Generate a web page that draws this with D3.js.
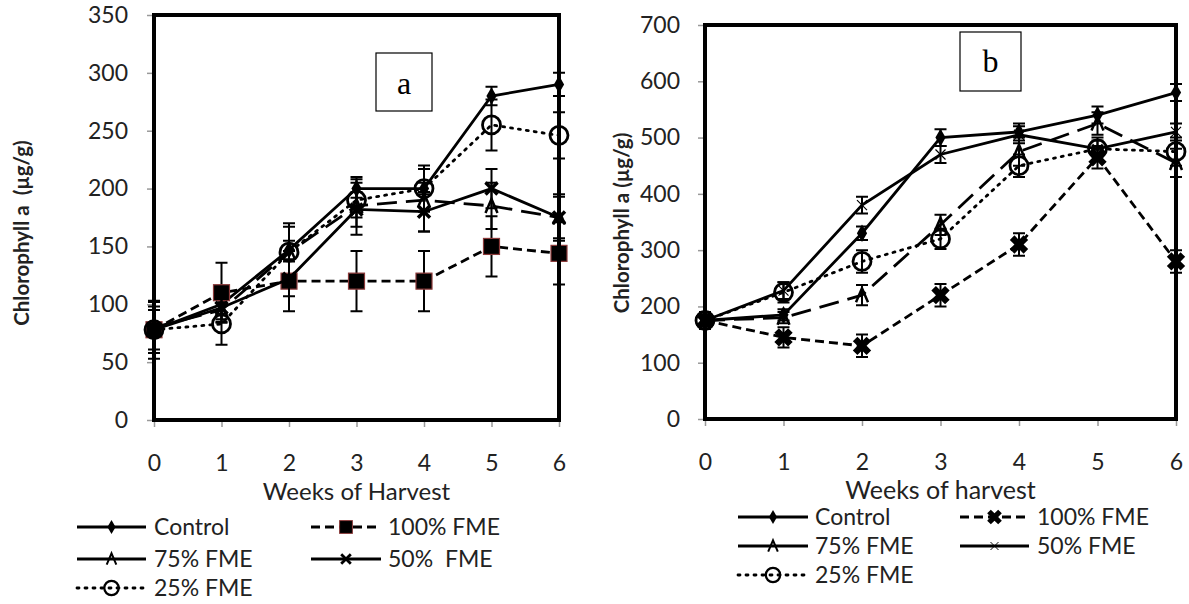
<!DOCTYPE html>
<html>
  <head>
    <meta charset="utf-8">
    <style>
      body { margin: 0; background: #fff; }
      text { font-family: Lato, "Open Sans", sans-serif; fill: #222; }
      .tick line { stroke: #999; stroke-width: 1.5; }
      .tick text { font-size: 23px; }
      .legend text { font-size: 23px; white-space: pre; }
      .ytitle { font-size: 20.5px; font-weight: bold; white-space: pre; }
      .panel-label { font-family: "Liberation Serif", "DejaVu Serif", serif; fill: #000; }
    </style>
    <script src="https://cdnjs.cloudflare.com/ajax/libs/d3/7.8.5/d3.min.js"></script>
  </head>
  <body>
    <svg width="1189" height="604" id="SVG"></svg>
    <script>
      var weeks = [0, 1, 2, 3, 4, 5, 6];
      var seriesNames = ["Control", "100% FME", "75% FME", "50% FME", "25% FME"];

      // panel a values (µg/g) and error bars
      var aControl = [78, 100, 147, 200, 200, 280, 290];
      var a100 = [78, 110, 120, 120, 120, 150, 144];
      var a75 = [80, 95, 145, 185, 190, 185, 175];
      var a50 = [78, 97, 122, 182, 180, 200, 175];
      var a25 = [78, 83, 145, 190, 200, 255, 246];
      var aControlErr = [5, 8, 8, 8, 5, 8, 10];
      var a100Err = [25, 26, 26, 26, 26, 26, 27];
      var a75Err = [22, 10, 25, 25, 27, 20, 18];
      var a50Err = [20, 10, 15, 15, 17, 17, 20];
      var a25Err = [17, 18, 22, 15, 20, 22, 20];
      var aTicks = [0, 50, 100, 150, 200, 250, 300, 350];

      // panel b values (µg/g) and error bars
      var bControl = [175, 185, 330, 500, 510, 540, 580];
      var b100 = [175, 145, 130, 220, 310, 465, 280];
      var b75 = [175, 180, 220, 345, 475, 525, 455];
      var b50 = [175, 228, 380, 470, 505, 480, 510];
      var b25 = [175, 225, 280, 320, 450, 480, 475];
      var bControlErr = [10, 10, 12, 15, 15, 15, 15];
      var b100Err = [10, 18, 20, 20, 20, 20, 20];
      var b75Err = [10, 10, 18, 18, 25, 20, 25];
      var b50Err = [10, 15, 15, 15, 15, 15, 15];
      var b25Err = [15, 18, 20, 18, 20, 20, 25];
      var bTicks = [0, 100, 200, 300, 400, 500, 600, 700];

      var svg = d3.select("#SVG");

      var dashes = { solid: null, dash: "9,5", longdash: "20,9", dot: "2,6" };

      // k scales the marker (legend markers are a bit smaller)
      function drawMarker(g, kind, x, y, k) {
        var t = "translate(" + x + "," + y + ") scale(" + k + ")";
        if (kind == "diamond") {
          g.append("path").attr("d", d3.symbol().type(d3.symbolDiamond).size(90)())
           .attr("transform", t).attr("fill", "#000");
        } else if (kind == "square") {
          g.append("rect").attr("x", -8).attr("y", -8).attr("width", 16).attr("height", 16)
           .attr("transform", t).attr("fill", "#000").attr("stroke", "#8b3a3a").attr("stroke-width", 1.2);
        } else if (kind == "caret") {
          g.append("path").attr("d", "M-6,7L0,-7L6,7").attr("transform", t)
           .attr("fill", "none").attr("stroke", "#000").attr("stroke-width", 2.5);
        } else if (kind == "x") {
          g.append("path").attr("d", "M-6,-6L6,6M-6,6L6,-6").attr("transform", t)
           .attr("stroke", "#000").attr("stroke-width", 3.5);
        } else if (kind == "thinx") {
          g.append("path").attr("d", "M-5,-5L5,5M-5,5L5,-5").attr("transform", t)
           .attr("stroke", "#000").attr("stroke-width", 1.2);
        } else if (kind == "star") {
          g.append("path").attr("d", d3.symbol().type(d3.symbolCross).size(210)())
           .attr("transform", t + " rotate(45)").attr("fill", "#000");
          g.append("path").attr("d", d3.symbol().type(d3.symbolSquare).size(60)())
           .attr("transform", t).attr("fill", "#000");
        } else if (kind == "circle") {
          g.append("circle").attr("r", 9).attr("transform", t)
           .attr("fill", "none").attr("stroke", "#000").attr("stroke-width", 2.8);
        }
      }

      function drawPanel(p) {
        var x = d3.scaleLinear().domain([0, 6]).range([p.left, p.right]);
        var y = d3.scaleLinear().domain([0, p.ymax]).range([p.bottom, p.top]);
        var g = svg.append("g");

        g.append("g").attr("transform", "translate(" + p.left + ",0)")
         .call(d3.axisLeft(y).tickValues(p.ticks).tickSize(7).tickPadding(p.ypad))
         .call(function(s) { s.select(".domain").remove(); s.selectAll("text").attr("font-family", null).attr("font-size", null); });
        g.append("g").attr("transform", "translate(0," + p.bottom + ")")
         .call(d3.axisBottom(x).tickValues(weeks).tickFormat(d3.format("d")).tickSize(7).tickPadding(28))
         .call(function(s) { s.select(".domain").remove(); s.selectAll("text").attr("font-family", null).attr("font-size", null); });

        var line = d3.line().x(function(d, i) { return x(weeks[i]) }).y(function(d) { return y(d) });

        p.series.forEach(function(s) {
          var sg = g.append("g");
          sg.selectAll(".err").data(s.values).enter().append("path")
            .attr("d", function(d, i) {
              var cx = x(weeks[i]), y1 = y(d + s.err[i]), y2 = y(d - s.err[i]);
              return "M" + (cx - 6) + "," + y1 + "H" + (cx + 6) + "M" + cx + "," + y1 + "V" + y2 + "M" + (cx - 6) + "," + y2 + "H" + (cx + 6);
            })
            .attr("stroke", "#000").attr("stroke-width", 2).attr("fill", "none");
          sg.append("path").datum(s.values).attr("d", line)
            .attr("fill", "none").attr("stroke", "#000").attr("stroke-width", 2.8)
            .attr("stroke-dasharray", dashes[s.dash])
            .attr("stroke-linecap", s.dash == "dot" ? "round" : "butt");
          s.values.forEach(function(d, i) { drawMarker(sg, s.marker, x(weeks[i]), y(d), 1) });
        });

        // thick frame
        g.append("rect").attr("x", p.left).attr("y", p.top).attr("width", p.right - p.left)
         .attr("height", p.bottom - p.top).attr("fill", "none").attr("stroke", "#000").attr("stroke-width", 4);

        // panel letter
        g.append("rect").attr("x", p.box[0]).attr("y", p.box[1]).attr("width", p.box[2]).attr("height", p.box[3])
         .attr("fill", "#fff").attr("stroke", "#000").attr("stroke-width", 1.2);
        g.append("text").attr("class", "panel-label").attr("x", p.box[0] + p.box[2] / 2).attr("y", p.labelY)
         .attr("text-anchor", "middle").attr("font-size", p.labelSize).text(p.label);

        // titles
        g.append("text").attr("class", "ytitle")
         .attr("transform", "translate(" + p.ytitle[0] + "," + p.ytitle[1] + ") rotate(-90)")
         .attr("text-anchor", "middle").attr("dy", "0.35em").text(p.ytext);
        g.append("text").attr("x", (p.left + p.right) / 2).attr("y", p.xtitleY)
         .attr("text-anchor", "middle").attr("font-size", p.xtitleSize).text(p.xtext);

        // legend
        var lg = g.append("g").attr("class", "legend");
        p.legend.forEach(function(it, i) {
          var s = p.series[i];
          lg.append("line").attr("x1", it[0]).attr("x2", it[1]).attr("y1", it[3]).attr("y2", it[3])
            .attr("stroke", "#000").attr("stroke-width", 2.8)
            .attr("stroke-dasharray", dashes[s.legendDash || s.dash])
            .attr("stroke-linecap", s.dash == "dot" ? "round" : "butt");
          drawMarker(lg, s.marker, (it[0] + it[1]) / 2, it[3], 0.8);
          lg.append("text").attr("x", it[2]).attr("y", it[3]).attr("dy", "0.35em").text(s.name);
        });
      }

      drawPanel({
        left: 154, right: 559, top: 15, bottom: 420, ymax: 350, ticks: aTicks, ypad: 19,
        series: [
          { name: seriesNames[0], values: aControl, err: aControlErr, dash: "solid", marker: "diamond" },
          { name: seriesNames[1], values: a100, err: a100Err, dash: "dash", marker: "square" },
          { name: seriesNames[2], values: a75, err: a75Err, dash: "longdash", legendDash: "solid", marker: "caret" },
          { name: "50%  FME", values: a50, err: a50Err, dash: "solid", marker: "x" },
          { name: seriesNames[4], values: a25, err: a25Err, dash: "dot", marker: "circle" }
        ],
        box: [376, 53, 56, 58], label: "a", labelY: 94, labelSize: 32,
        ytitle: [22, 233], ytext: "Chlorophyll a  (µg/g)",
        xtitleY: 500, xtitleSize: 24, xtext: "Weeks of Harvest",
        legend: [[77, 146, 154, 527], [311, 381, 388, 527], [77, 146, 154, 559], [311, 381, 388, 559], [77, 146, 154, 588]]
      });

      drawPanel({
        left: 705, right: 1176, top: 25, bottom: 419, ymax: 700, ticks: bTicks, ypad: 18,
        series: [
          { name: seriesNames[0], values: bControl, err: bControlErr, dash: "solid", marker: "diamond" },
          { name: seriesNames[1], values: b100, err: b100Err, dash: "dash", marker: "star" },
          { name: seriesNames[2], values: b75, err: b75Err, dash: "longdash", legendDash: "solid", marker: "caret" },
          { name: seriesNames[3], values: b50, err: b50Err, dash: "solid", marker: "thinx" },
          { name: seriesNames[4], values: b25, err: b25Err, dash: "dot", marker: "circle" }
        ],
        box: [960, 32, 61, 59], label: "b", labelY: 72, labelSize: 32,
        ytitle: [622, 223], ytext: "Chlorophyll a (µg/g)",
        xtitleY: 499, xtitleSize: 25, xtext: "Weeks of harvest",
        legend: [[738, 808, 815, 517], [960, 1029, 1037, 517], [738, 808, 815, 546], [960, 1029, 1037, 546], [738, 808, 815, 575]]
      });
    </script>
  </body>
</html>
